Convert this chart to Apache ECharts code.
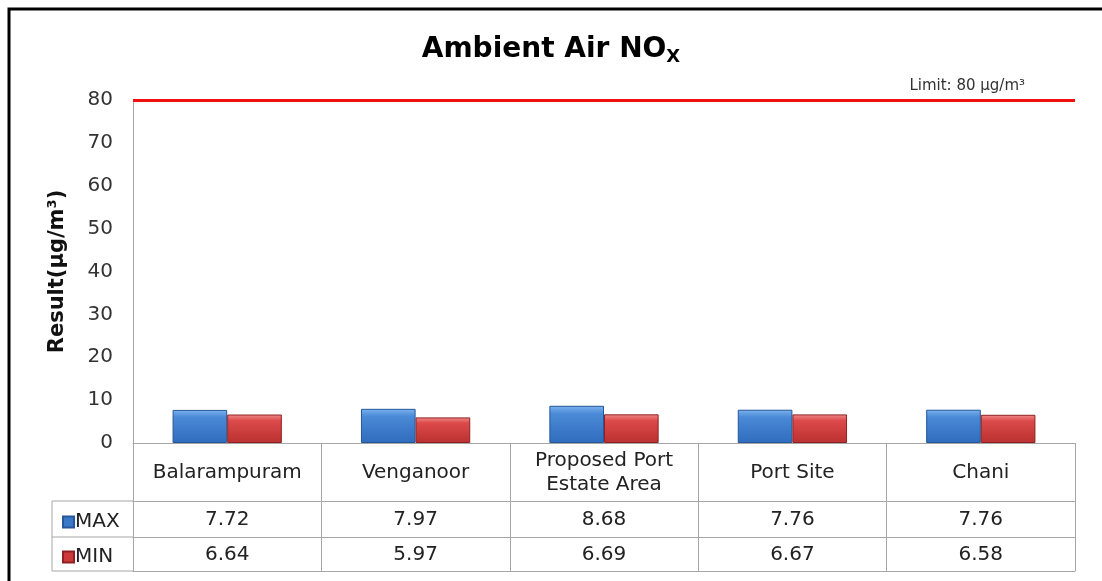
<!DOCTYPE html>
<html>
<head>
<meta charset="utf-8">
<title>Ambient Air NOx</title>
<script src="https://cdn.jsdelivr.net/npm/echarts@6/dist/echarts.min.js"></script>
<style>
  html, body { margin: 0; padding: 0; background: #fff; }
  #chart { width: 1102px; height: 581px; }
</style>
</head>
<body>
<div id="chart"></div>
<script>
// sites along the x axis
const sites = ['Balarampuram', 'Venganoor', 'Proposed Port\nEstate Area', 'Port Site', 'Chani'];
// NOx results, µg/m³
const maxValues = [7.72, 7.97, 8.68, 7.76, 7.76];
const minValues = [6.64, 5.97, 6.69, 6.67, 6.58];
const limitValue = 80;
const yTicks = [0, 10, 20, 30, 40, 50, 60, 70, 80];

const font = 'DejaVu Sans, Verdana, sans-serif';
const gridColor = '#a6a6a6';

let chart = echarts.init(document.getElementById('chart'));

// bevelled look for the bars
function barGradient(light, mid, dark) {
  return new echarts.graphic.LinearGradient(0, 0, 0, 1, [
    { offset: 0, color: light },
    { offset: 0.22, color: mid },
    { offset: 1, color: dark }
  ]);
}
const blue = barGradient('#7db3ee', '#4a8ad6', '#2f6cbd');
const red = barGradient('#f08a8a', '#dc4a4a', '#bb3030');

// table rows are drawn with extra x axes stacked below the plot
function tableAxis(offset, labels, margin) {
  return {
    type: 'category',
    position: 'bottom',
    offset: offset,
    data: labels,
    axisLine: { show: true, lineStyle: { color: gridColor, width: 1 } },
    axisTick: { show: false },
    axisLabel: {
      show: labels.length > 0,
      margin: margin,
      verticalAlign: 'middle',
      color: '#222',
      fontFamily: font,
      fontSize: 20,
      interval: 0
    }
  };
}

let option = {
  animation: false,
  title: {
    text: 'Ambient Air NO{sub|X}',
    left: 'center',
    top: 29,
    textStyle: {
      fontFamily: font,
      fontSize: 28,
      fontWeight: 'bold',
      color: '#000',
      rich: {
        sub: { fontFamily: font, fontSize: 18, fontWeight: 'bold', color: '#000', verticalAlign: 'bottom', padding: [14, 0, 0, 0] }
      }
    }
  },
  legend: {
    orient: 'vertical',
    left: 57,
    top: 507,
    itemGap: 15,
    itemWidth: 11,
    itemHeight: 11,
    icon: 'rect',
    selectedMode: false,
    textStyle: { fontFamily: font, fontSize: 20, color: '#222', lineHeight: 20, padding: [0, 0, 0, -4] },
    data: [
      { name: 'MAX', itemStyle: { color: '#3a78c8' } },
      { name: 'MIN', itemStyle: { color: '#cc3a3a' } }
    ]
  },
  grid: { left: 133, right: 27, top: 100, bottom: 138, containLabel: false },
  xAxis: [
    {
      type: 'category',
      position: 'bottom',
      data: sites,
      axisLine: { show: true, lineStyle: { color: gridColor, width: 1 } },
      axisTick: { show: true, length: 128, alignWithLabel: false, lineStyle: { color: gridColor, width: 1 } },
      axisLabel: {
        margin: 30,
        interval: 0,
        verticalAlign: 'middle',
        align: 'center',
        color: '#222',
        fontFamily: font,
        fontSize: 20,
        lineHeight: 24
      }
    },
    tableAxis(58, maxValues.map(v => v.toFixed(2)), 19),
    tableAxis(94, minValues.map(v => v.toFixed(2)), 18),
    tableAxis(128, [], 0)
  ],
  yAxis: {
    type: 'value',
    min: yTicks[0],
    max: yTicks[yTicks.length - 1],
    interval: 10,
    name: 'Result(µg/m³)',
    nameLocation: 'middle',
    nameGap: 65,
    nameTextStyle: { fontFamily: font, fontSize: 21, fontWeight: 'bold', color: '#111' },
    axisLine: { show: true, lineStyle: { color: gridColor, width: 1 } },
    axisTick: { show: false },
    splitLine: { show: false },
    axisLabel: { margin: 20, color: '#333', fontFamily: font, fontSize: 20 }
  },
  series: [
    {
      name: 'MAX',
      type: 'bar',
      data: maxValues,
      barGap: '0%',
      barCategoryGap: '42%',
      itemStyle: { color: blue, borderColor: '#25579a', borderWidth: 1 },
      markLine: {
        silent: true,
        symbol: 'none',
        data: [{ yAxis: limitValue }],
        lineStyle: { color: '#f01010', width: 3, type: 'solid' },
        label: {
          show: true,
          position: 'insideEndTop',
          distance: [50, 6],
          formatter: 'Limit: ' + limitValue + ' µg/m³',
          color: '#333',
          fontFamily: font,
          fontSize: 15
        }
      }
    },
    {
      name: 'MIN',
      type: 'bar',
      data: minValues,
      itemStyle: { color: red, borderColor: '#8e2222', borderWidth: 1 }
    }
  ],
  graphic: [
    // outer frame (top and left edges)
    { type: 'polyline', shape: { points: [[9, 581], [9, 9], [1102, 9]] }, style: { stroke: '#000', lineWidth: 3, fill: null } },
    // header column of the data table
    { type: 'polyline', shape: { points: [[133, 501], [52, 501], [52, 571], [133, 571]] }, style: { stroke: gridColor, lineWidth: 1, fill: null } },
    { type: 'line', shape: { x1: 52, y1: 537, x2: 133, y2: 537 }, style: { stroke: gridColor, lineWidth: 1 } }
  ]
};

chart.setOption(option);
</script>
</body>
</html>
